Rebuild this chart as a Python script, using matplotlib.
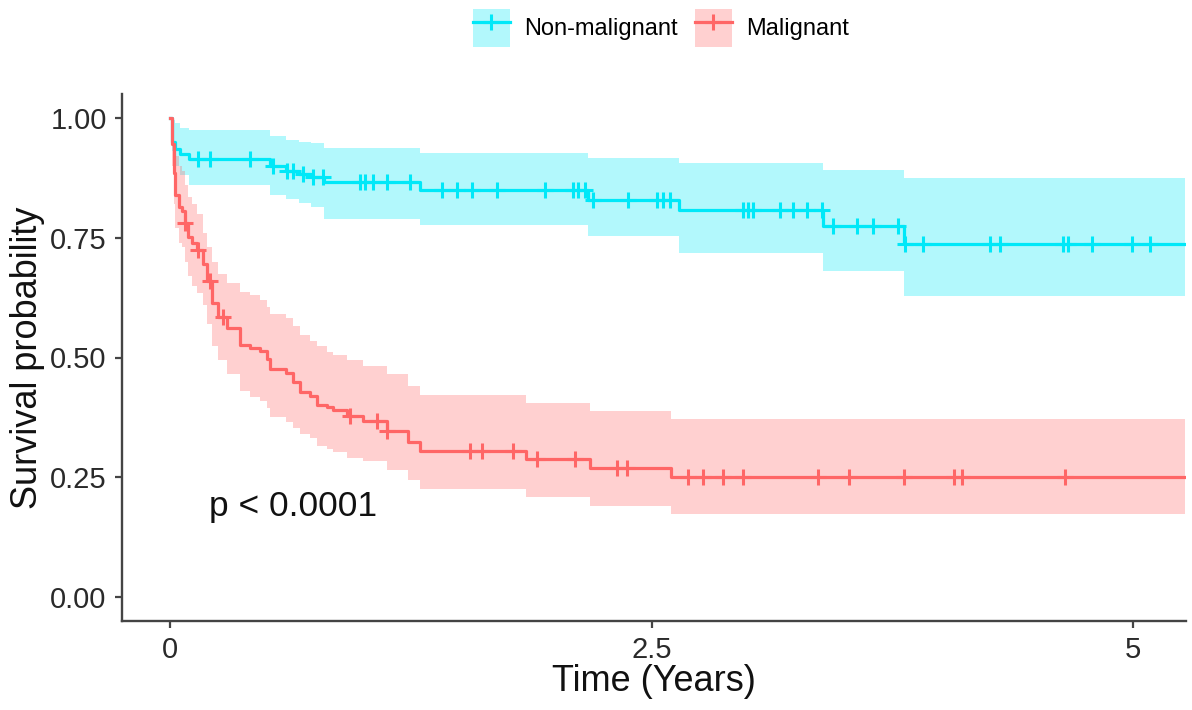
import numpy as np
import matplotlib
matplotlib.use("Agg")
import matplotlib.pyplot as plt
from matplotlib.patches import Patch
from matplotlib.lines import Line2D

plt.rcParams['font.family'] = ['Liberation Sans', 'DejaVu Sans']

# ---------------- data ----------------
groups = ["Non-malignant", "Malignant"]
t_end = 5.27

# Non-malignant: step times (years), survival, CI upper, CI lower
nm_time = [0, 0.009, 0.026, 0.05, 0.1, 0.52, 0.6, 0.67, 0.73, 0.8, 1.3, 2.17, 2.64, 3.39, 3.81]
nm_surv = [1.0, 0.95, 0.935, 0.925, 0.915, 0.899, 0.89, 0.883, 0.876, 0.866, 0.85, 0.829, 0.808, 0.775, 0.737]
nm_upper = [1.0, 0.995, 0.99, 0.98, 0.974, 0.963, 0.955, 0.95, 0.947, 0.938, 0.926, 0.916, 0.906, 0.892, 0.874]
nm_lower = [1.0, 0.93, 0.90, 0.88, 0.860, 0.84, 0.83, 0.823, 0.815, 0.79, 0.777, 0.753, 0.718, 0.68, 0.628]
nm_censor = [0.145, 0.208, 0.415, 0.535, 0.607, 0.639, 0.69, 0.742, 0.794, 0.987, 1.012, 1.054,
             1.127, 1.246, 1.412, 1.49, 1.568, 1.698, 1.947, 2.092, 2.118, 2.155, 2.196, 2.378,
             2.529, 2.56, 2.596, 2.975, 3.001, 3.027, 3.167, 3.235, 3.307, 3.385, 3.442, 3.567,
             3.65, 3.78, 3.816, 3.91, 4.258, 4.31, 4.636, 4.662, 4.787, 4.995, 5.088]

# Malignant
m_time = [0, 0.009, 0.018, 0.026, 0.045, 0.06, 0.077, 0.094, 0.113, 0.138, 0.17, 0.19, 0.217, 0.25,
          0.295, 0.363, 0.415, 0.467, 0.502, 0.52, 0.6, 0.64, 0.675, 0.727, 0.762, 0.814, 0.846,
          0.917, 1.0, 1.126, 1.236, 1.3, 1.85, 2.18, 2.6]
m_surv = [1.0, 0.946, 0.885, 0.84, 0.815, 0.805, 0.78, 0.752, 0.738, 0.725, 0.696, 0.66, 0.614, 0.585,
          0.562, 0.527, 0.52, 0.513, 0.496, 0.475, 0.468, 0.448, 0.427, 0.42, 0.40, 0.397, 0.39,
          0.377, 0.367, 0.347, 0.323, 0.305, 0.288, 0.27, 0.25]
m_upper = [1.0, 0.985, 0.95, 0.92, 0.9, 0.89, 0.86, 0.835, 0.82, 0.8, 0.76, 0.73, 0.70, 0.675,
           0.655, 0.637, 0.63, 0.621, 0.605, 0.59, 0.582, 0.566, 0.548, 0.535, 0.525, 0.512, 0.506,
           0.495, 0.482, 0.465, 0.44, 0.421, 0.406, 0.389, 0.371]
m_lower = [1.0, 0.9, 0.82, 0.77, 0.74, 0.73, 0.70, 0.67, 0.65, 0.635, 0.61, 0.57, 0.525, 0.495,
           0.465, 0.43, 0.418, 0.41, 0.395, 0.375, 0.365, 0.352, 0.34, 0.332, 0.315, 0.31, 0.302,
           0.29, 0.285, 0.265, 0.245, 0.225, 0.208, 0.19, 0.173]
m_censor = [0.078, 0.145, 0.208, 0.275, 0.935, 1.075, 1.127, 1.558, 1.62, 1.781, 1.906, 2.103,
            2.321, 2.373, 2.69, 2.767, 2.871, 2.975, 3.364, 3.525, 3.811, 4.07, 4.112, 4.647]

x_ticks = [0, 2.5, 5]
x_tick_labels = ["0", "2.5", "5"]
y_ticks = [0.0, 0.25, 0.5, 0.75, 1.0]
y_tick_labels = ["0.00", "0.25", "0.50", "0.75", "1.00"]
p_text = "p < 0.0001"

colors = ["#00E8F8", "#FF6666"]

# ---------------- figure ----------------
fig = plt.figure(figsize=(11.92, 7.10), dpi=100)
ax = fig.add_axes([122 / 1192, 1 - 621 / 710, (1186 - 122) / 1192, (621 - 94) / 710])

series = [
    (nm_time, nm_surv, nm_upper, nm_lower, nm_censor),
    (m_time, m_surv, m_upper, m_lower, m_censor),
]

handles = []
for (t, s, up, lo, cens), col, name in zip(series, colors, groups):
    t = np.asarray(t + [t_end])
    s = np.asarray(s + [s[-1]])
    up = np.asarray(up + [up[-1]])
    lo = np.asarray(lo + [lo[-1]])
    ax.fill_between(t, lo, up, step='post', color=col, alpha=0.3, lw=0, zorder=1)
    ax.step(t, s, where='post', color=col, lw=2.3, zorder=3)
    cens = np.asarray(cens)
    idx = np.searchsorted(t, cens, side='right') - 1
    ax.plot(cens, s[idx], ls='none', marker='+', ms=12, mew=2.2, color=col, zorder=4)
    handles.append((Patch(facecolor=col, alpha=0.3, edgecolor='none'),
                    Line2D([], [], color=col, lw=2.3, marker='+', ms=12, mew=2.2)))

ax.set_xlim(-0.25, 5.275)
ax.set_ylim(-0.05, 1.05)
ax.set_xticks(x_ticks)
ax.set_xticklabels(x_tick_labels)
ax.set_yticks(y_ticks)
ax.set_yticklabels(y_tick_labels)

for side in ['top', 'right']:
    ax.spines[side].set_visible(False)
for side in ['left', 'bottom']:
    ax.spines[side].set_color('#444444')
    ax.spines[side].set_linewidth(1.7)
ax.tick_params(axis='both', colors='#444444', width=1.6, length=5, labelsize=21,
               labelcolor='#2a2a2a', pad=6)

ax.set_xlabel("Time (Years)", fontsize=26, color='#111111', labelpad=0)
ax.set_ylabel("Survival probability", fontsize=26, color='#111111', labelpad=4)

ax.text(0.2, 0.19, p_text, fontsize=25.5, color='#111111', ha='left', va='center')

fig.legend(handles, groups, loc='center', bbox_to_anchor=(0.5545, 1 - 28 / 710),
           ncol=2, frameon=False, fontsize=17, handlelength=1.6, handleheight=2.1,
           handletextpad=0.6, columnspacing=0.7, borderpad=0)

fig.savefig("out.png", dpi=100, facecolor='white')
